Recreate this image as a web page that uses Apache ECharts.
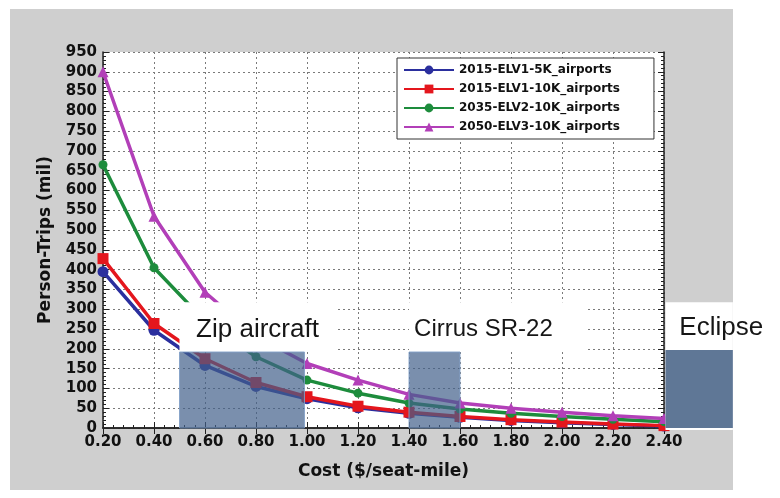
<!DOCTYPE html>
<html>
<head>
<meta charset="utf-8">
<script src="https://cdn.jsdelivr.net/npm/echarts@6/dist/echarts.min.js"></script>
<style>
html,body{margin:0;padding:0;background:#fff;}
#c{width:780px;height:498px;}
</style>
</head>
<body>
<div id="c"></div>
<script>
// ---- data ----
var costs = [0.2, 0.4, 0.6, 0.8, 1.0, 1.2, 1.4, 1.6, 1.8, 2.0, 2.2, 2.4];
var elv1_5k  = [395, 247, 158, 105, 74, 51, 37, 27, 19, 13, 9, 5];
var elv1_10k = [428, 264, 175, 115, 79, 55, 40, 29, 21, 15, 10, 6];
var elv2_10k = [665, 405, 270, 180, 121, 88, 63, 48, 37, 29, 22, 16];
var elv3_10k = [900, 535, 343, 232, 163, 121, 85, 63, 50, 40, 31, 24];
var seriesNames = ['2015-ELV1-5K_airports', '2015-ELV1-10K_airports', '2035-ELV2-10K_airports', '2050-ELV3-10K_airports'];
// aircraft zone annotations
var zoneLabels = ['Zip aircraft', 'Cirrus SR-22', 'Eclipse'];
var zoneX0 = [0.5, 1.4, 2.4];
var zoneX1 = [0.99, 1.6, 2.67];
var zoneBgX1 = [1.11, 2.1, 2.67];
var zoneTop = [192, 192, 197];
var zoneBgTop = [318, 318, 318];
var zoneTextX = [0.565, 1.42, 2.46];
var zoneTextY = [249, 250, 253];

var colors = ['#2b2f9e', '#e4161d', '#1d8c3c', '#b23fb8'];
var symbols = ['circle', 'rect', 'circle', 'triangle'];
var allData = [elv1_5k, elv1_10k, elv2_10k, elv3_10k];

function pairs(ys){ return costs.map(function(x,i){ return [x, ys[i]]; }); }

var chart = echarts.init(document.getElementById('c'));
var labelFont = {fontFamily:'DejaVu Sans', fontWeight:'bold', fontSize:15, color:'#111'};
var axLine = {show:true, lineStyle:{color:'#222', width:1.5}};
var split = {show:true, lineStyle:{color:'#7a7a7a', type:[2,3], width:1}};

var series = allData.map(function(d,i){
  return {
    name: seriesNames[i], type:'line', data: pairs(d),
    symbol: symbols[i], symbolSize: i===2?9:11,
    lineStyle:{color:colors[i], width:3.5},
    itemStyle:{color:colors[i]},
    z: 3 + i
  };
});

chart.setOption({
  animation:false,
  backgroundColor:'#fff',
  grid:{left:103, right:116, top:52, bottom:70, show:true, backgroundColor:'#fff', borderWidth:0},
  legend:{
    orient:'vertical', left:397, top:58, padding:[6,34,6,6],
    backgroundColor:'#fff', borderColor:'#333', borderWidth:1,
    itemWidth:50, itemHeight:11, itemGap:7,
    textStyle:{fontFamily:'DejaVu Sans', fontWeight:'bold', fontSize:12, color:'#111'},
    data: seriesNames
  },
  xAxis:[{
    type:'value', min:0.2, max:2.4, interval:0.2, position:'bottom',
    axisLine:axLine,
    axisTick:{show:true, inside:true, length:6, lineStyle:{color:'#222'}},
    minorTick:{show:true, splitNumber:5, length:3, lineStyle:{color:'#222'}},
    splitLine:split,
    axisLabel:Object.assign({margin:7, formatter:function(v){return v.toFixed(2);}}, labelFont),
    name:'Cost ($/seat-mile)', nameLocation:'middle', nameGap:35,
    nameTextStyle:{fontFamily:'DejaVu Sans', fontWeight:'bold', fontSize:17, color:'#111'}
  },{
    type:'value', min:0.2, max:2.4, interval:0.2, position:'top',
    axisLine:axLine,
    axisTick:{show:true, inside:true, length:6, lineStyle:{color:'#222'}},
    axisLabel:{show:false}, splitLine:{show:false}
  }],
  yAxis:[{
    type:'value', min:0, max:950, interval:50, position:'left',
    axisLine:axLine,
    axisTick:{show:true, inside:true, length:6, lineStyle:{color:'#222'}},
    minorTick:{show:true, splitNumber:5, length:3, lineStyle:{color:'#222'}},
    splitLine:split,
    axisLabel:Object.assign({margin:6}, labelFont),
    name:'Person-Trips (mil)', nameLocation:'middle', nameGap:49,
    nameTextStyle:{fontFamily:'DejaVu Sans', fontWeight:'bold', fontSize:17, color:'#111'}
  },{
    type:'value', min:0, max:950, interval:50, position:'right',
    axisLine:axLine,
    axisTick:{show:true, inside:true, length:6, lineStyle:{color:'#222'}},
    minorTick:{show:true, splitNumber:5, length:3, lineStyle:{color:'#222'}},
    axisLabel:{show:false}, splitLine:{show:false}
  }],
  series: series
});

function px(x,y){ return chart.convertToPixel({xAxisIndex:0, yAxisIndex:0}, [x,y]); }
var g = [{type:'rect', z:-10, silent:true, shape:{x:10,y:9,width:723,height:481}, style:{fill:'#cfcfcf'}}];
zoneLabels.forEach(function(lbl,i){
  var a = px(zoneX0[i], zoneTop[i]), b = px(zoneX1[i], 0);
  var bgA = px(zoneX0[i], zoneBgTop[i]), bgB = px(zoneBgX1[i], zoneTop[i]);
  var off = (i===2 ? 1.5 : 0);
  var bx = bgA[0] + off;
  var bh = (i===2 ? (b[1] + 2) : bgB[1]) - bgA[1];
  g.push({type:'rect', z:100, silent:true, shape:{x:bx, y:bgA[1], width:bgB[0]-bx, height:bh}, style:{fill:'#ffffff'}});
  var dx = a[0] + off;
  g.push({type:'rect', z:101, silent:true, shape:{x:dx, y:a[1], width:b[0]-dx, height:b[1]-a[1]},
    style: i===2 ? {fill:'#5f7796'} : {fill:'rgba(66,95,138,0.7)', stroke:'rgba(130,160,200,0.9)', lineWidth:1}});
  var t = px(zoneTextX[i], zoneTextY[i]);
  g.push({type:'text', z:102, silent:true, style:{text:lbl, x:t[0], y:t[1], verticalAlign:'middle', align:'left',
    fill:'#161616', font:(i===1?'24px':'26px') + ' "Liberation Sans", Arial, sans-serif'}});
});
chart.setOption({graphic:g});
</script>
</body>
</html>
